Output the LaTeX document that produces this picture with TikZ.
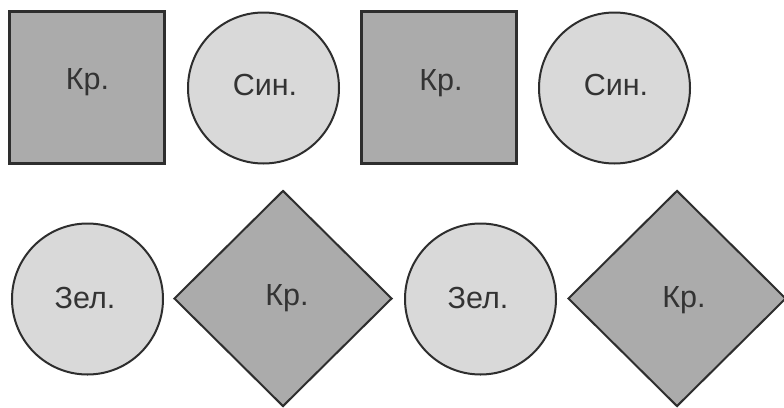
\documentclass[tikz,border=0pt]{standalone}
\usepackage{fontspec}
\setmainfont{Liberation Sans}
\usetikzlibrary{shapes.geometric}
\definecolor{sqfill}{HTML}{ABABAB}
\definecolor{cifill}{HTML}{D9D9D9}
\definecolor{edge}{HTML}{2E2E2E}
\definecolor{txt}{HTML}{333333}
\tikzset{
  sq/.style={rectangle, draw=edge, fill=sqfill, line width=3pt, minimum width=155pt, minimum height=152pt, inner sep=0pt},
  ci/.style={circle, draw=edge, fill=cifill, line width=2pt, minimum size=151pt, inner sep=0pt},
  di/.style={diamond, draw=edge, fill=sqfill, line width=2pt, minimum width=218pt, minimum height=216pt, inner sep=0pt},
  lbl/.style={text=txt, font=\fontsize{30.5}{32}\selectfont, inner sep=0pt}
}
\begin{document}
\begin{tikzpicture}[x=1pt,y=-1pt]
\path[use as bounding box] (0,0) rectangle (784,407);
\fill[white] (0,0) rectangle (784,407);
\begin{scope}
\clip (0,0) rectangle (784,407);
\node[sq] (s1) at (87,87.5) {};
\node[ci] (c1) at (263.5,88) {};
\node[sq] (s2) at (439,87.5) {};
\node[ci] (c2) at (614.5,88) {};
\node[ci] (c3) at (87.5,299) {};
\node[di] (d1) at (283,298.5) {};
\node[ci] (c4) at (480.5,299) {};
\node[di] (d2) at (677,298.5) {};
\end{scope}
\node[lbl] (t1) at (87.5,82) {Кр.};
\node[lbl] (t2) at (265,85) {Син.};
\node[lbl] (t3) at (441,83) {Кр.};
\node[lbl] (t4) at (616,85) {Син.};
\node[lbl] (t5) at (85,298) {Зел.};
\node[lbl] (t6) at (287,298) {Кр.};
\node[lbl] (t7) at (478,298) {Зел.};
\node[lbl] (t8) at (684,300) {Кр.};
\end{tikzpicture}
\end{document}
